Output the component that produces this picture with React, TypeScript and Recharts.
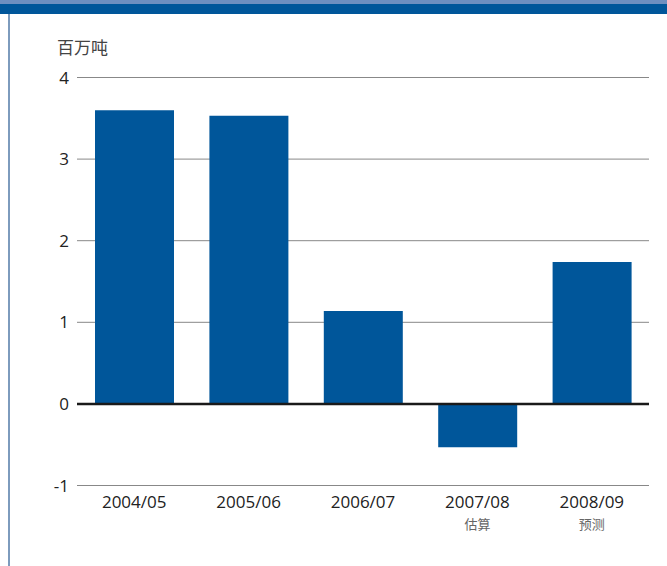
import React from "react";
import { BarChart, Bar, XAxis, YAxis, CartesianGrid, ReferenceLine } from "recharts";

const categories = ["2004/05", "2005/06", "2006/07", "2007/08", "2008/09"];
const subLabels = ["", "", "", "估算", "预测"];
const values = [3.6, 3.53, 1.14, -0.53, 1.74];
const yTicks = [-1, 0, 1, 2, 3, 4];
const unitLabel = "百万吨";

const data = categories.map((c, i) => ({ name: c, sub: subLabels[i], value: values[i] }));

const FONT = "'Open Sans', 'Noto Sans', sans-serif";

const XTick = (props: any) => {
  const { x, y, payload, index } = props;
  const sub = subLabels[index] ?? "";
  return (
    <g>
      <text x={x} y={y + 14} textAnchor="middle" fontFamily={FONT} fontSize={17} fill="#222">
        {payload.value}
      </text>
      {sub ? (
        <text x={x} y={y + 35} textAnchor="middle" fontFamily="'Noto Sans CJK SC', sans-serif" fontSize={13} fill="#666">
          {sub}
        </text>
      ) : null}
    </g>
  );
};

export default function App() {
  return (
    <div style={{ position: "absolute", left: 0, top: 0, width: 667, height: 566, background: "#fff", overflow: "hidden" }}>
      <div style={{ position: "absolute", left: 0, top: 0, width: 667, height: 4, background: "#6e8fc0" }} />
      <div style={{ position: "absolute", left: 0, top: 4, width: 667, height: 10, background: "#00569a" }} />
      <div style={{ position: "absolute", left: 8, top: 14, width: 2, height: 552, background: "#7d9bbd" }} />
      <div
        style={{
          position: "absolute",
          left: 57,
          top: 36,
          fontFamily: "'Noto Sans CJK SC', sans-serif",
          fontSize: 17,
          color: "#444",
          lineHeight: "22px",
        }}
      >
        {unitLabel}
      </div>
      <div style={{ position: "absolute", left: 0, top: 0 }}>
        <BarChart
          width={667}
          height={566}
          data={data}
          margin={{ top: 77.5, right: 18, bottom: 0, left: 0 }}
          barSize={79}
        >
          <CartesianGrid vertical={false} stroke="#888" strokeWidth={1} />
          <YAxis
            type="number"
            domain={[-1, 4]}
            ticks={yTicks}
            width={77}
            axisLine={false}
            tickLine={false}
            interval={0}
            tick={{ fontFamily: FONT, fontSize: 17, fill: "#222" }}
          />
          <XAxis
            dataKey="name"
            axisLine={false}
            tickLine={false}
            interval={0}
            tick={<XTick />}
            height={80.5}
          />
          <Bar dataKey="value" fill="#00569a" isAnimationActive={false} />
          <ReferenceLine y={0} stroke="#1a1a1a" strokeWidth={2.5} />
        </BarChart>
      </div>
    </div>
  );
}
